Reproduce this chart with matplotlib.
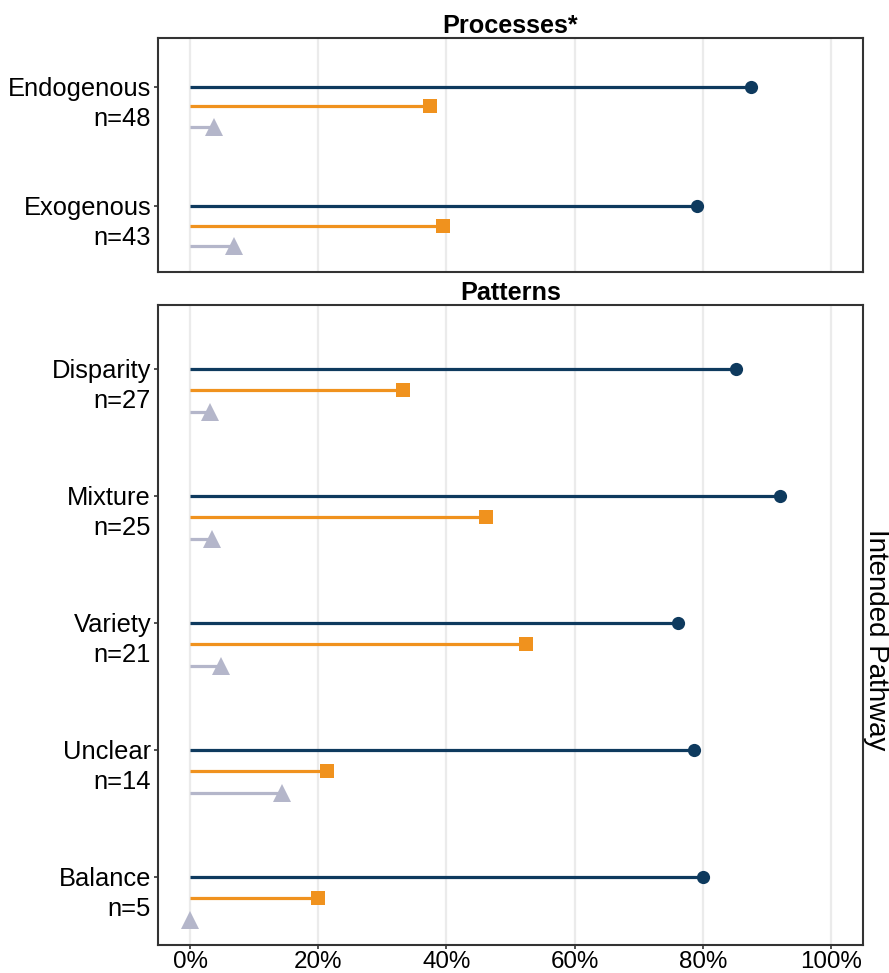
import numpy as np
import matplotlib.pyplot as plt
from matplotlib.transforms import blended_transform_factory

plt.rcParams['font.family'] = ['Liberation Sans', 'DejaVu Sans']

# Processes panel
proc_names = ['Endogenous', 'Exogenous']
proc_n = [48, 43]
proc_navy = [87.5, 79.1]
proc_orange = [37.5, 39.5]
proc_grey = [3.7, 6.9]

# Patterns panel
patt_names = ['Disparity', 'Mixture', 'Variety', 'Unclear', 'Balance']
patt_n = [27, 25, 21, 14, 5]
patt_navy = [85.2, 92.0, 76.2, 78.6, 80.0]
patt_orange = [33.3, 46.2, 52.4, 21.4, 20.0]
patt_grey = [3.1, 3.4, 4.8, 14.3, 0.0]

NAVY = '#0e3a5e'
ORANGE = '#f0921e'
GREY = '#b4b6ca'

fig = plt.figure(figsize=(8.89, 9.73), dpi=100)
ax1 = fig.add_axes([158/889, 1-272/973, 705/889, 234/973])
ax2 = fig.add_axes([158/889, 1-945/973, 705/889, 640/973])


def draw_panel(ax, names, ns, navy, orange, grey, title, ylim):
    y = np.arange(len(names))
    series = [(navy, 0.0, NAVY, 'o', 9.5),
              (orange, 0.165, ORANGE, 's', 10),
              (grey, 0.335, GREY, '^', 12.5)]
    for vals, off, col, mk, ms in series:
        for yi, v in zip(y, vals):
            ax.plot([0, v], [yi + off, yi + off], color=col, lw=2.3,
                    solid_capstyle='butt', zorder=2)
        ax.plot(vals, y + off, linestyle='none', marker=mk, ms=ms,
                color=col, markeredgewidth=0, zorder=3)
    ax.set_xlim(-5, 105)
    ax.set_ylim(*ylim)
    ax.set_xticks(np.arange(0, 101, 20))
    ax.xaxis.grid(True, color='#ebebeb', lw=1.6)
    ax.set_axisbelow(True)
    ax.set_yticks(y)
    ax.set_yticklabels([])
    ax.tick_params(axis='y', length=3, width=1.2, color='#333333')
    ax.tick_params(axis='x', length=3, width=1.2, color='#333333',
                   labelsize=17.4, pad=1)
    for s in ax.spines.values():
        s.set_color('#333333')
        s.set_linewidth(1.5)
    trans = blended_transform_factory(ax.transAxes, ax.transData)
    for yi, nm, n in zip(y, names, ns):
        ax.annotate(f'{nm}\nn={n}', xy=(0, yi), xycoords=trans,
                    xytext=(-5, 7), textcoords='offset points',
                    ha='right', va='top', fontsize=18.4, linespacing=1.3)
    ax.set_title(title, fontsize=18.2, fontweight='bold', pad=3)


draw_panel(ax1, proc_names, proc_n, proc_navy, proc_orange, proc_grey,
           'Processes*', (1.555, -0.41))
draw_panel(ax2, patt_names, patt_n, patt_navy, patt_orange, patt_grey,
           'Patterns', (4.535, -0.504))

ax1.set_xticklabels([])
ax1.tick_params(axis='x', length=0)
ax2.set_xticklabels([f'{v}%' for v in range(0, 101, 20)])

fig.text(876/889, 1-640/973, 'Intended Pathway', rotation=-90,
         ha='center', va='center', fontsize=20)

fig.savefig('out.png', dpi=100)
